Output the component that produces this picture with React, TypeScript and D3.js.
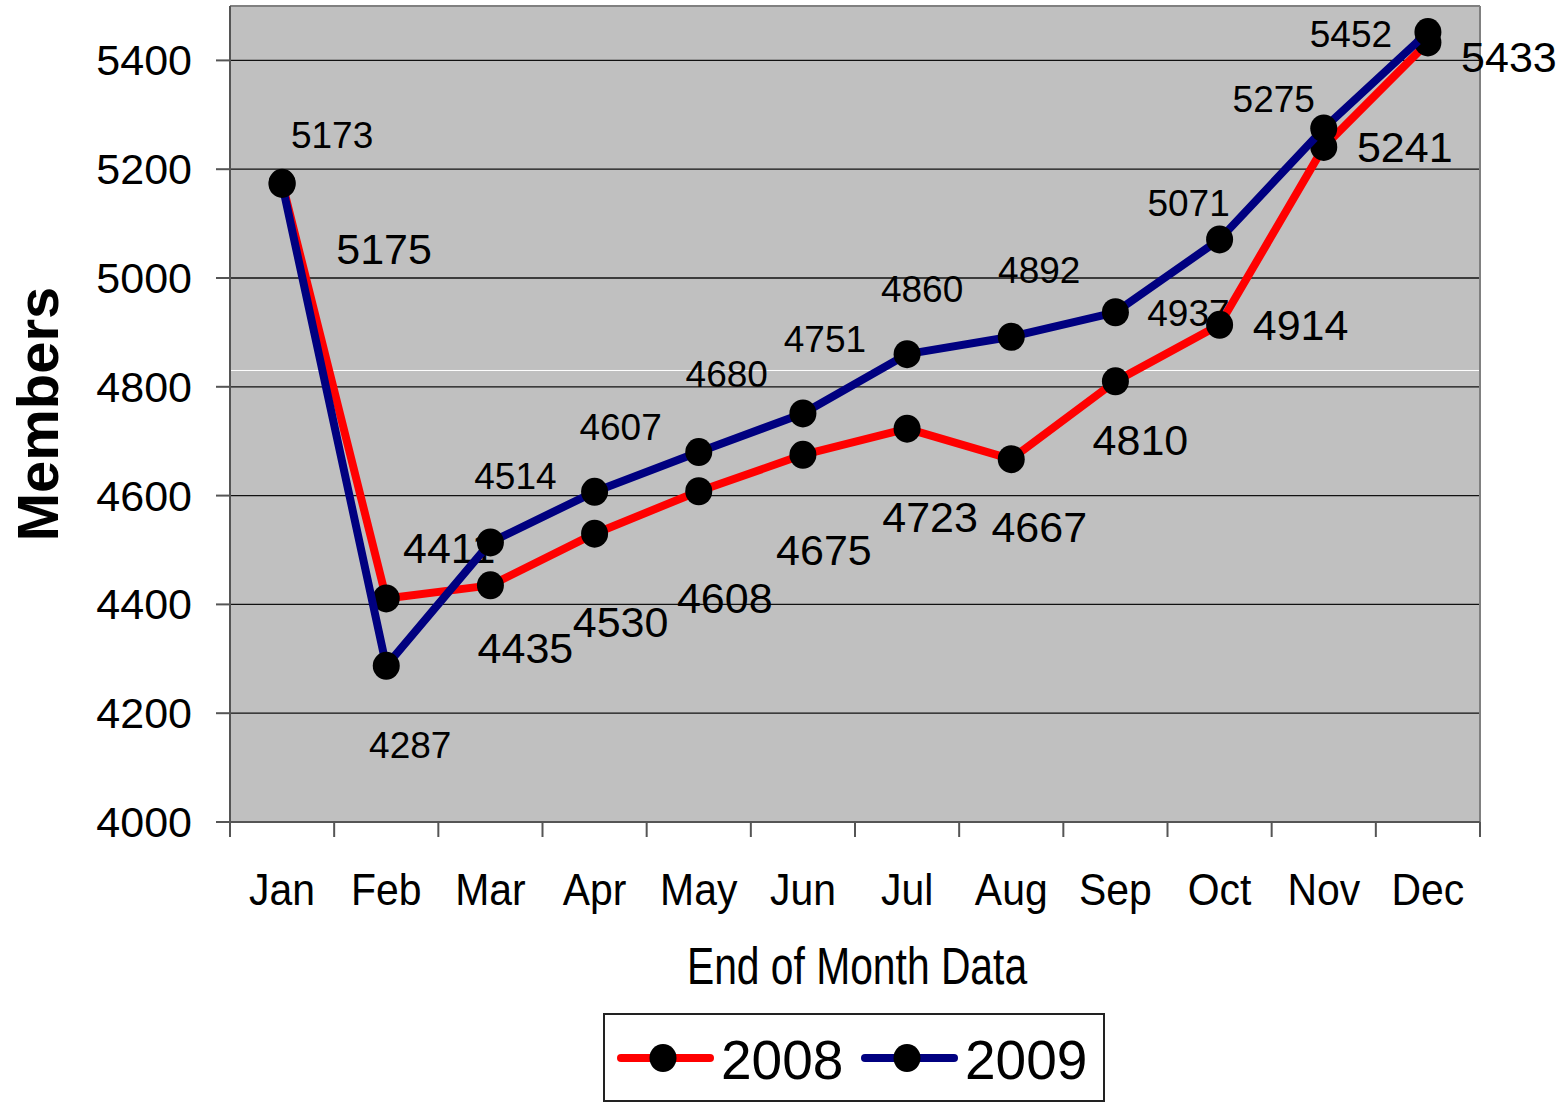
import React from "react";
import * as d3 from "d3";

const months = ["Jan", "Feb", "Mar", "Apr", "May", "Jun", "Jul", "Aug", "Sep", "Oct", "Nov", "Dec"];
const members2008 = [5175, 4411, 4435, 4530, 4608, 4675, 4723, 4667, 4810, 4914, 5241, 5433];
const members2009 = [5173, 4287, 4514, 4607, 4680, 4751, 4860, 4892, 4937, 5071, 5275, 5452];
const yTicks = [4000, 4200, 4400, 4600, 4800, 5000, 5200, 5400];

// hand-placed label nudges (centre x, baseline y) relative to each marker
const nudge2008 = [[102, 81], [63, -35], [35, 78], [26, 103], [26, 122], [21, 110], [23, 103], [28, 83], [25, 74], [81, 15], [81, 15], [81, 30]];
const nudge2009 = [[50, -36], [24, 92], [25, -53], [26, -52], [28, -65], [22, -61], [15, -52], [28, -54], [73, 14], [-31, -23], [-50, -16], [-77, 15]];

const W = 1566;
const H = 1103;
const left = 230, right = 1480, top = 6, bottom = 822;
const font = "'Liberation Sans', Arial, sans-serif";

export default function App() {
  const x = d3.scaleBand<string>().domain(months).range([left, right]);
  const y = d3.scaleLinear().domain([4000, 5500]).range([bottom, top]);
  const cx = (m: string) => (x(m) ?? 0) + x.bandwidth() / 2;

  const line = d3
    .line<number>()
    .x((_, i) => cx(months[i]))
    .y(d => y(d));

  const series = [
    { name: "2008", values: members2008, color: "#ff0000", nudge: nudge2008, size: 43 },
    { name: "2009", values: members2009, color: "#000080", nudge: nudge2009, size: 37 },
  ];

  return (
    <div style={{ position: "absolute", left: 0, top: 0 }}>
      <svg width={W} height={H} style={{ display: "block", fontFamily: font }}>
        <rect x={0} y={0} width={W} height={H} fill="#fff" />
        <rect x={left} y={top} width={right - left} height={bottom - top} fill="#c0c0c0" />

        {yTicks.slice(1).map(t => (
          <line key={t} x1={left} x2={right} y1={y(t)} y2={y(t)} stroke="#111" strokeWidth={1.3} />
        ))}
        {/* stray light rule seen in the original */}
        <line x1={left} x2={right} y1={y(4830)} y2={y(4830)} stroke="#fff" strokeWidth={1} />

        {/* frame */}
        <line x1={left} x2={right} y1={top} y2={top} stroke="#808080" strokeWidth={2} />
        <line x1={right} x2={right} y1={top} y2={bottom} stroke="#808080" strokeWidth={2} />
        <line x1={left} x2={left} y1={top} y2={bottom} stroke="#555" strokeWidth={2} />
        <line x1={left - 14} x2={right} y1={bottom} y2={bottom} stroke="#555" strokeWidth={2} />

        {yTicks.map(t => (
          <g key={t}>
            <line x1={left - 14} x2={left} y1={y(t)} y2={y(t)} stroke="#555" strokeWidth={2} />
            <text x={192} y={y(t) + 15} textAnchor="end" fontSize={43} fill="#000">{t}</text>
          </g>
        ))}

        {[...months.map(m => x(m) ?? 0), right].map((p, i) => (
          <line key={i} x1={p} x2={p} y1={bottom} y2={bottom + 15} stroke="#555" strokeWidth={2} />
        ))}
        {months.map(m => (
          <text key={m} transform={`translate(${cx(m)},905) scale(0.93,1)`} textAnchor="middle" fontSize={44} fill="#000">{m}</text>
        ))}

        <text transform="translate(857,984) scale(0.8,1)" textAnchor="middle" fontSize={51} fill="#000">End of Month Data</text>
        <text transform="translate(58,414) rotate(-90)" textAnchor="middle" fontSize={58} fontWeight="bold" fill="#000">Members</text>

        {/* data labels sit under the lines */}
        {series.map(s => s.values.map((v, i) => (
          <text key={s.name + i} x={cx(months[i]) + s.nudge[i][0]} y={y(v) + s.nudge[i][1]} textAnchor="middle" fontSize={s.size} fill="#000">{v}</text>
        )))}

        {series.map(s => (
          <g key={s.name}>
            <path d={line(s.values) ?? ""} fill="none" stroke={s.color} strokeWidth={8} strokeLinejoin="round" />
            {s.values.map((v, i) => (
              <ellipse key={i} cx={cx(months[i])} cy={y(v)} rx={13.5} ry={14} fill="#000" />
            ))}
          </g>
        ))}

        {/* legend */}
        <rect x={604} y={1014} width={500} height={87} fill="#fff" stroke="#222" strokeWidth={2} />
        {series.map((s, i) => {
          const lx = 621 + i * 244;
          return (
            <g key={s.name}>
              <line x1={lx} x2={lx + 89} y1={1058} y2={1058} stroke={s.color} strokeWidth={8} strokeLinecap="round" />
              <ellipse cx={lx + 42} cy={1058} rx={13.5} ry={14} fill="#000" />
              <text x={lx + 100} y={1079} fontSize={55} fill="#000">{s.name}</text>
            </g>
          );
        })}
      </svg>
    </div>
  );
}
